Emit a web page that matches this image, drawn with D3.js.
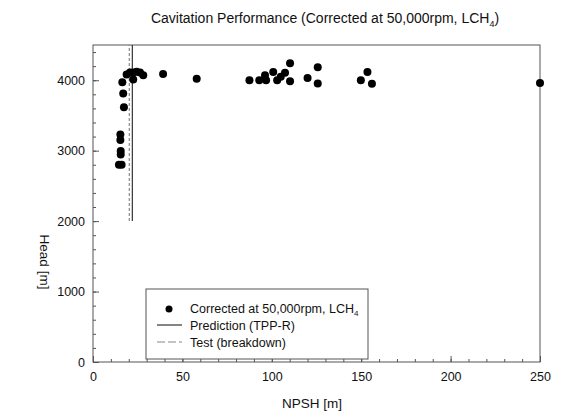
<!DOCTYPE html>
<html lang="en">
<head>
    <meta charset="UTF-8">
    <title>Cavitation Performance</title>
    <script src="https://d3js.org/d3.v7.min.js"></script>
    <style>
        body {
            margin: 0;
            background-color: white;
            font-family: 'Liberation Sans', Arial, sans-serif;
        }
        .axis path, .axis line {
            stroke: #555;
        }
        .axis text {
            font-size: 12.5px;
            fill: #111;
        }
    </style>
</head>
<body>
    <div id="chart"></div>

    <script>
        // Measured points (corrected at 50,000 rpm, LCH4)
        const npsh = [14.5, 16.0, 15.5, 15.5, 15.3, 15.3, 17.3, 16.9, 16.4,
                      18.8, 20.7, 22.5, 24.4, 26.3, 28.1, 22.5, 39.2, 58.0,
                      87.5, 93.0, 96.2, 96.8, 100.8, 103.0, 105.0, 107.4,
                      110.2, 110.2, 120.0, 125.7, 125.7, 149.8, 153.5, 156.0, 250.0];
        const head = [2800, 2800, 2945, 2995, 3150, 3230, 3615, 3810, 3970,
                      4080, 4110, 4110, 4120, 4110, 4070, 4010, 4090, 4020,
                      4000, 4000, 4070, 4000, 4115, 4000, 4050, 4105,
                      4240, 3985, 4030, 4185, 3955, 4000, 4115, 3950, 3960];

        // Vertical reference lines
        const predictionNpsh = 22.0;
        const testNpsh = 20.3;
        const refLineHead = [2000, 4500];

        const xTicks = [0, 50, 100, 150, 200, 250];
        const yTicks = [0, 1000, 2000, 3000, 4000];

        const width = 561;
        const height = 413;
        const margin = { top: 45, right: 21, bottom: 51, left: 93 };

        const svg = d3.select("#chart")
            .append("svg")
            .attr("width", width)
            .attr("height", height);

        const x = d3.scaleLinear()
            .domain([0, 250])
            .range([margin.left, width - margin.right]);

        const y = d3.scaleLinear()
            .domain([0, 4500])
            .range([height - margin.bottom, margin.top]);

        // Frame
        svg.append("rect")
            .attr("x", x(0))
            .attr("y", y(4500))
            .attr("width", x(250) - x(0))
            .attr("height", y(0) - y(4500))
            .attr("fill", "none")
            .attr("stroke", "#555")
            .attr("stroke-width", 1);

        // Minor ticks (inward)
        svg.append("g")
            .attr("class", "axis")
            .attr("transform", `translate(0,${y(0)})`)
            .call(d3.axisBottom(x).tickValues(d3.range(0, 251, 10)).tickSize(-3).tickFormat(""))
            .call(g => g.select(".domain").remove());

        svg.append("g")
            .attr("class", "axis")
            .attr("transform", `translate(${x(0)},0)`)
            .call(d3.axisLeft(y).tickValues(d3.range(0, 4501, 200)).tickSize(-3).tickFormat(""))
            .call(g => g.select(".domain").remove());

        // Major ticks + labels
        svg.append("g")
            .attr("class", "axis")
            .attr("transform", `translate(0,${y(0)})`)
            .call(d3.axisBottom(x).tickValues(xTicks).tickFormat(d3.format("d"))
                .tickSizeInner(-6).tickSizeOuter(0).tickPadding(10))
            .call(g => g.select(".domain").remove());

        svg.append("g")
            .attr("class", "axis")
            .attr("transform", `translate(${x(0)},0)`)
            .call(d3.axisLeft(y).tickValues(yTicks).tickFormat(d3.format("d"))
                .tickSizeInner(-6).tickSizeOuter(0).tickPadding(8))
            .call(g => g.select(".domain").remove());

        // Reference lines
        svg.append("line")
            .attr("x1", x(testNpsh)).attr("x2", x(testNpsh))
            .attr("y1", y(refLineHead[0])).attr("y2", y(refLineHead[1]))
            .attr("stroke", "#888")
            .attr("stroke-width", 1.2)
            .attr("stroke-dasharray", "3,2");

        svg.append("line")
            .attr("x1", x(predictionNpsh)).attr("x2", x(predictionNpsh))
            .attr("y1", y(refLineHead[0])).attr("y2", y(refLineHead[1]))
            .attr("stroke", "#333")
            .attr("stroke-width", 1.2);

        // Points
        svg.append("g")
            .selectAll("circle")
            .data(npsh.map((d, i) => ({ npsh: d, head: head[i] })))
            .enter()
            .append("circle")
            .attr("cx", d => x(d.npsh))
            .attr("cy", d => y(d.head))
            .attr("r", 4)
            .attr("fill", "black");

        // Title
        const title = svg.append("text")
            .attr("x", 325)
            .attr("y", 23)
            .attr("text-anchor", "middle")
            .style("font-size", "14px")
            .attr("fill", "#111");
        title.append("tspan").text("Cavitation Performance (Corrected at 50,000rpm, LCH");
        title.append("tspan").text("4").attr("dy", 4).style("font-size", "9px");
        title.append("tspan").text(")").attr("dy", -4);

        // Axis titles
        svg.append("text")
            .attr("x", 312)
            .attr("y", 408)
            .attr("text-anchor", "middle")
            .style("font-size", "13.5px")
            .attr("fill", "#111")
            .text("NPSH [m]");

        svg.append("text")
            .attr("transform", "translate(40,262) rotate(90)")
            .attr("text-anchor", "middle")
            .style("font-size", "13.5px")
            .attr("fill", "#111")
            .text("Head [m]");

        // Legend
        const legend = svg.append("g");
        legend.append("rect")
            .attr("x", 146).attr("y", 289)
            .attr("width", 222).attr("height", 70)
            .attr("fill", "white")
            .attr("stroke", "#555")
            .attr("stroke-width", 1);

        legend.append("circle")
            .attr("cx", 169).attr("cy", 309).attr("r", 3.5).attr("fill", "black");
        const t1 = legend.append("text")
            .attr("x", 190).attr("y", 313)
            .style("font-size", "12.5px").attr("fill", "#111");
        t1.append("tspan").text("Corrected at 50,000rpm, LCH");
        t1.append("tspan").text("4").attr("dy", 3).style("font-size", "8px");

        legend.append("line")
            .attr("x1", 157).attr("x2", 182).attr("y1", 325).attr("y2", 325)
            .attr("stroke", "#333").attr("stroke-width", 1.2);
        legend.append("text")
            .attr("x", 190).attr("y", 329.5)
            .style("font-size", "12.5px").attr("fill", "#111")
            .text("Prediction (TPP-R)");

        legend.append("line")
            .attr("x1", 157).attr("x2", 182).attr("y1", 342).attr("y2", 342)
            .attr("stroke", "#888").attr("stroke-width", 1.2)
            .attr("stroke-dasharray", "8,3");
        legend.append("text")
            .attr("x", 190).attr("y", 346.5)
            .style("font-size", "12.5px").attr("fill", "#111")
            .text("Test (breakdown)");
    </script>
</body>
</html>
